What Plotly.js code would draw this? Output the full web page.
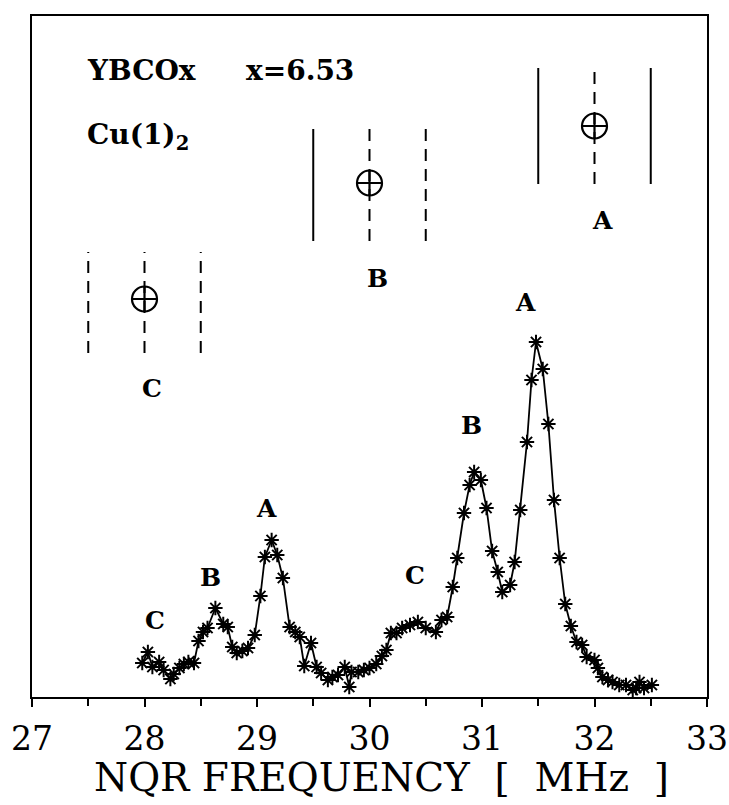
<!DOCTYPE html>
<html>
<head>
<meta charset="utf-8">
<script src="https://cdn.plot.ly/plotly-3.0.1.min.js"></script>
<style>html,body{margin:0;padding:0;background:#fff;}#chart{width:729px;height:805px;}</style>
</head>
<body>
<div id="chart"></div>
<script>
// NQR spectrum (frequency in MHz, intensity in arbitrary units)
const freq = [27.98, 28.03, 28.07, 28.13, 28.17, 28.23, 28.26, 28.31, 28.35, 28.39,
  28.44, 28.48, 28.52, 28.56, 28.63, 28.70, 28.74, 28.78, 28.82, 28.87,
  28.92, 28.98, 29.03, 29.07, 29.13, 29.18, 29.23, 29.29, 29.34, 29.38,
  29.42, 29.48, 29.53, 29.57, 29.63, 29.67, 29.72, 29.78, 29.82, 29.84,
  29.90, 29.95, 30.00, 30.06, 30.11, 30.15, 30.19, 30.24, 30.29, 30.36,
  30.43, 30.50, 30.59, 30.64, 30.69, 30.74, 30.78, 30.84, 30.89, 30.93,
  30.99, 31.04, 31.09, 31.14, 31.18, 31.25, 31.29, 31.34, 31.40, 31.44,
  31.48, 31.54, 31.59, 31.64, 31.69, 31.74, 31.79, 31.84, 31.89, 31.93,
  32.00, 32.03, 32.07, 32.12, 32.16, 32.22, 32.28, 32.34, 32.37, 32.40,
  32.44, 32.51];
const intensity = [34, 45, 30, 35, 27, 18, 23, 29, 33, 35,
  34, 56, 65, 69, 89, 73, 70, 50, 44, 46,
  49, 62, 101, 140, 157, 142, 119, 70, 65, 60,
  31, 54, 30, 24, 17, 20, 22, 30, 10, 25,
  25, 27, 29, 33, 41, 47, 64, 64, 69, 72,
  75, 69, 65, 77, 80, 110, 139, 184, 212, 225,
  217, 189, 146, 125, 105, 112, 135, 187, 255, 317,
  355, 328, 273, 197, 139, 93, 71, 55, 52, 40,
  37, 29, 20, 17, 15, 12, 12, 7, 9, 15,
  9, 12];

// Peak labels
const peakLabels = ['C', 'B', 'A', 'C', 'B', 'A'];
const peakLabelX = [28.09, 28.59, 29.08, 30.40, 30.905, 31.39];
const peakLabelY = [77, 120, 189, 122, 272, 395];

// Inset: predicted line groups (centre frequency, half width, marker height, extent)
const insetLabels = ['C', 'B', 'A'];
const insetCenter = [28.0, 30.0, 32.0];
const insetHalfWidth = [0.5, 0.5, 0.5];
const insetMarkY = [398, 514, 571];
const insetTop = [445, 568, 629];
const insetBottom = [344, 456, 513];
const insetLeftStyle = ['dashed', 'solid', 'solid'];
const insetRightStyle = ['dashed', 'dashed', 'solid'];
const insetLabelY = [309, 419, 477];

// Axis
const xTicks = [27, 28, 29, 30, 31, 32, 33];

const FONT = 'DejaVu Serif, Liberation Serif, serif';
const DASH = '12px,8px';

const traces = [];
traces.push({
  x: freq, y: intensity, type: 'scatter', mode: 'lines+markers',
  line: {color: '#000', width: 1.8},
  marker: {symbol: 'asterisk-open', size: 12, color: '#000', line: {color: '#000', width: 2}},
  showlegend: false, hoverinfo: 'x+y'
});

const annotations = [];
for (let i = 0; i < insetCenter.length; i++) {
  const c = insetCenter[i], h = insetHalfWidth[i];
  const sides = [[c - h, insetLeftStyle[i]], [c + h, insetRightStyle[i]]];
  sides.forEach(([sx, st]) => {
    traces.push({x: [sx, sx], y: [insetBottom[i], insetTop[i]], type: 'scatter', mode: 'lines',
      line: {color: '#000', width: 2, dash: st === 'solid' ? 'solid' : DASH},
      showlegend: false, hoverinfo: 'skip'});
  });
  traces.push({x: [c, c], y: [insetBottom[i], insetTop[i]], type: 'scatter', mode: 'lines',
    line: {color: '#000', width: 2, dash: DASH}, showlegend: false, hoverinfo: 'skip'});
  traces.push({x: [c], y: [insetMarkY[i]], type: 'scatter', mode: 'markers',
    marker: {symbol: 'circle-cross-open', size: 25, color: '#000', line: {color: '#000', width: 2.2}},
    showlegend: false, hoverinfo: 'skip'});
  annotations.push({x: c + 0.07, y: insetLabelY[i], xref: 'x', yref: 'y', text: '<b>' + insetLabels[i] + '</b>',
    showarrow: false, font: {family: FONT, size: 25, color: '#000'}});
}
for (let i = 0; i < peakLabels.length; i++) {
  annotations.push({x: peakLabelX[i], y: peakLabelY[i], xref: 'x', yref: 'y', text: '<b>' + peakLabels[i] + '</b>',
    showarrow: false, font: {family: FONT, size: 25, color: '#000'}});
}
annotations.push({x: 27.47, y: 627, xref: 'x', yref: 'y', xanchor: 'left', text: '<b>YBCOx</b>',
  showarrow: false, font: {family: FONT, size: 28, color: '#000'}});
annotations.push({x: 28.88, y: 627, xref: 'x', yref: 'y', xanchor: 'left', text: '<b>x=6.53</b>',
  showarrow: false, font: {family: FONT, size: 28, color: '#000'}});
annotations.push({x: 27.47, y: 561, xref: 'x', yref: 'y', xanchor: 'left', text: '<b>Cu(1)<sub>2</sub></b>',
  showarrow: false, font: {family: FONT, size: 28, color: '#000'}});
annotations.push({x: 0.518, y: 0, xref: 'paper', yref: 'paper', yanchor: 'middle', yshift: -80,
  text: 'NQR FREQUENCY\u00a0\u00a0[\u00a0\u00a0MHz\u00a0\u00a0]',
  showarrow: false, font: {family: FONT, size: 39, color: '#000'}});

const layout = {
  width: 729, height: 805,
  margin: {l: 32, r: 22, t: 16, b: 108},
  paper_bgcolor: '#fff', plot_bgcolor: '#fff',
  showlegend: false,
  xaxis: {
    range: [27, 33], tickvals: xTicks, ticktext: xTicks.map(String),
    ticks: 'outside', ticklen: 8, tickwidth: 2, tickcolor: '#000',
    minor: {dtick: 0.5, tick0: 27, ticks: 'outside', ticklen: 7, tickwidth: 2, tickcolor: '#000'},
    showline: true, linewidth: 2, linecolor: '#000', mirror: true,
    showgrid: false, zeroline: false, ticklabeloverflow: 'allow',
    tickfont: {family: FONT, size: 33, color: '#000'}, ticklabelstandoff: 3
  },
  yaxis: {
    range: [0, 681], showticklabels: false, ticks: '',
    showline: true, linewidth: 2, linecolor: '#000', mirror: true,
    showgrid: false, zeroline: false
  },
  annotations: annotations
};

Plotly.newPlot('chart', traces, layout, {displayModeBar: false, staticPlot: true});
</script>
</body>
</html>
